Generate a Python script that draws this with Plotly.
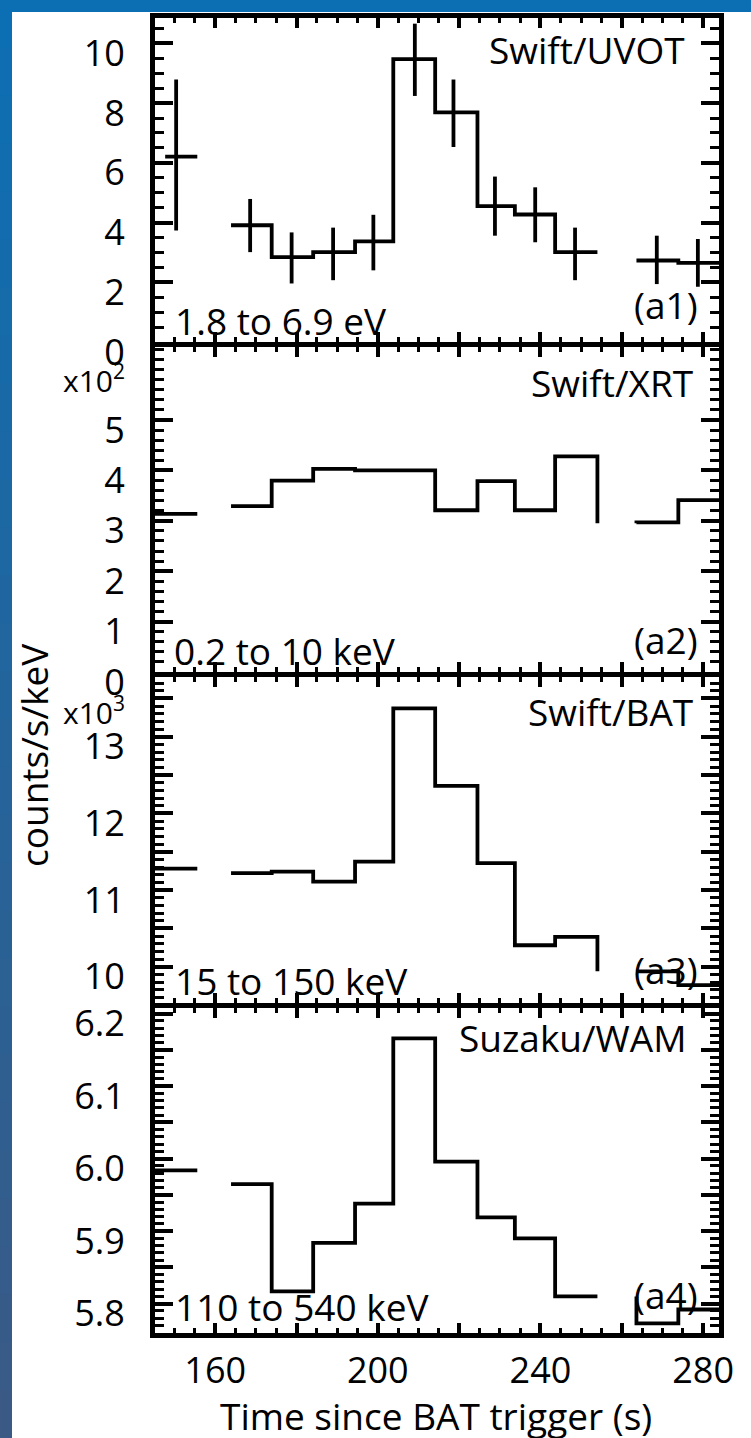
import plotly.graph_objects as go
from plotly.subplots import make_subplots

# ---------------- data ----------------
# time-bin edges (s since BAT trigger); bins 1 and 11 are data gaps
time_edges = [145.0, 155.6, 163.9, 173.9, 184.1, 194.4, 203.8, 214.1,
              224.5, 233.7, 243.6, 254.0, 263.6, 273.9, 285.0]
gap_bins = [1, 11]

# Swift/UVOT (1.8-6.9 eV)
uvot_first_edge = 147.7
uvot_time = [150.4, 168.6, 178.8, 189.0, 198.9, 209.1, 218.6, 228.8, 238.7, 248.5, 268.6, 278.7]
uvot_rate = [6.21, 3.91, 2.84, 3.01, 3.37, 9.47, 7.69, 4.55, 4.27, 3.01, 2.73, 2.65]
uvot_err_hi = [2.58, 0.88, 0.83, 0.82, 0.89, 1.19, 1.10, 0.99, 0.91, 0.82, 0.83, 0.80]
uvot_err_lo = [2.48, 0.90, 0.88, 0.94, 0.97, 1.23, 1.16, 0.99, 0.93, 0.94, 0.79, 0.80]

# Swift/XRT (0.2-10 keV), units of 1e2 counts/s/keV ; level in gap bins only sets the connectors
xrt_rate = [3.14, None, 3.29, 3.80, 4.03, 4.00, 4.00, 3.21, 3.79, 3.21, 4.28, 2.95, 2.97, 3.41]
# Swift/BAT (15-150 keV), units of 1e3
bat_rate = [11.28, None, 11.22, 11.24, 11.11, 11.37, 13.37, 12.36, 11.35, 10.28, 10.39, 9.94, 9.94, 9.76]
# Suzaku/WAM (110-540 keV)
wam_rate = [5.984, None, 5.965, 5.817, 5.884, 5.938, 6.166, 5.996, 5.919, 5.890, 5.810, 5.810, 5.773, 5.792]

instrument_labels = ["Swift/UVOT", "Swift/XRT", "Swift/BAT", "Suzaku/WAM"]
band_labels = ["1.8 to 6.9 eV", "0.2 to 10 keV", "15 to 150 keV", "110 to 540 keV"]
panel_tags = ["(a1)", "(a2)", "(a3)", "(a4)"]

# ---------------- geometry ----------------
W, H = 751, 1438
L, R, T, B = 155, 32, 18, 105
PW, PH = W - L - R, H - T - B
AX_LW = 5
# panel pixel extents (top, bottom); gaps equal the axis line width so lines coincide
panel_px = [(18, 342), (347, 672), (677, 1002.5), (1007.5, 1333)]


def xp(px):
    return (px - L) / PW


def yp(py):
    return (H - B - py) / PH


def step_path(edges, vals, gaps):
    xs, ys = [], []
    prev = None
    pending = None
    for i, v in enumerate(vals):
        x0, x1 = edges[i], edges[i + 1]
        if v is None:
            xs.append(None); ys.append(None)
            prev, pending = None, None
            continue
        if i in gaps:
            if prev is not None:
                xs += [x0]; ys += [v]
            xs.append(None); ys.append(None)
            pending = (x1, v)
            prev = None
            continue
        if pending is not None:
            xs.append(pending[0]); ys.append(pending[1])
            pending = None
        xs += [x0, x1]; ys += [v, v]
        prev = v
    return xs, ys


fig = make_subplots(rows=4, cols=1, shared_xaxes=True, vertical_spacing=0.01)

LINE_W = 3.8
# UVOT step + error bars
uvot_edges = [uvot_first_edge] + time_edges[1:]
uvot_steps = list(uvot_rate)
for g in gap_bins:
    uvot_steps.insert(g, None)
ux, uy = step_path(uvot_edges, uvot_steps, gap_bins)
fig.add_trace(go.Scatter(x=ux, y=uy, mode="lines", line=dict(color="black", width=LINE_W),
                         connectgaps=False, showlegend=False), row=1, col=1)
fig.add_trace(go.Scatter(x=uvot_time, y=uvot_rate, mode="markers",
                         marker=dict(size=1, color="black"),
                         error_y=dict(type="data", symmetric=False, array=uvot_err_hi,
                                      arrayminus=uvot_err_lo, color="black",
                                      thickness=LINE_W, width=0),
                         showlegend=False), row=1, col=1)

for r, vals in [(2, xrt_rate), (3, bat_rate), (4, wam_rate)]:
    sx, sy = step_path(time_edges, vals, gap_bins)
    fig.add_trace(go.Scatter(x=sx, y=sy, mode="lines", line=dict(color="black", width=LINE_W),
                             connectgaps=False, showlegend=False), row=r, col=1)

FONT = "Open Sans"
TICKFONT = dict(family=FONT, size=36, color="black")

for r in range(1, 5):
    fig.update_xaxes(row=r, col=1, range=[145.2, 283.9], autorange=False, automargin=False,
                     showline=True, linewidth=AX_LW,
                     linecolor="black", mirror="ticks", ticks="inside", ticklen=10,
                     tickwidth=4, tickcolor="black", tickmode="linear", tick0=160, dtick=20,
                     ticklabelstep=2,
                     minor=dict(ticks="inside", ticklen=5, tickwidth=3, tickcolor="black",
                                dtick=5, tick0=0),
                     showgrid=False, zeroline=False, tickfont=TICKFONT,
                     ticklabelstandoff=2)

y_specs = {
    1: dict(range=[0, 10.85], mode="linear", tick0=0, dtick=2, step=1, fmt="d", minor=0.5),
    2: dict(range=[0, 6.45], mode="array", vals=[0, 1, 2, 3, 4, 5], fmt="d", minor=0.2),
    3: dict(range=[9.533, 13.779], mode="linear", tick0=10, dtick=0.5, step=2, fmt="d", minor=0.1),
    4: dict(range=[5.7596, 6.2086], mode="linear", tick0=5.8, dtick=0.05, step=2, fmt=".1f",
            minor=0.01),
}
for r, s in y_specs.items():
    top, bot = panel_px[r - 1]
    common = dict(range=s["range"], autorange=False, automargin=False,
                  domain=[yp(bot), yp(top)], tickformat=s["fmt"],
                  showline=True, linewidth=AX_LW, linecolor="black", mirror="ticks",
                  ticks="inside", ticklen=18, tickwidth=3.5, tickcolor="black",
                  minor=dict(ticks="inside", ticklen=9, tickwidth=3, tickcolor="black",
                             dtick=s["minor"], tick0=0),
                  showgrid=False, zeroline=False, tickfont=TICKFONT,
                  ticklabelstandoff=18, ticklabelshift=10)
    if s["mode"] == "linear":
        common.update(tickmode="linear", tick0=s["tick0"], dtick=s["dtick"], ticklabelstep=s["step"])
    else:
        common.update(tickmode="array", tickvals=s["vals"])
    fig.update_yaxes(row=r, col=1, **common)

annots = []
TXT = dict(family=FONT, size=37, color="black")
# instrument names (top right), energy bands (bottom left), tags (bottom right)
name_pos = [(687, 49), (695, 382), (695, 711), (688, 1037)]
band_pos = [(173, 320), (172, 650), (173, 980), (173, 1306)]
tag_pos = [(700, 305), (700, 639), (700, 969), (700, 1294)]
for i in range(4):
    annots.append(dict(text=instrument_labels[i], x=xp(name_pos[i][0]), y=yp(name_pos[i][1]),
                       xref="paper", yref="paper", xanchor="right", yanchor="middle",
                       showarrow=False, font=TXT))
    annots.append(dict(text=band_labels[i], x=xp(band_pos[i][0]), y=yp(band_pos[i][1]),
                       xref="paper", yref="paper", xanchor="left", yanchor="middle",
                       showarrow=False, font=TXT))
    annots.append(dict(text=panel_tags[i], x=xp(tag_pos[i][0]), y=yp(tag_pos[i][1]),
                       xref="paper", yref="paper", xanchor="right", yanchor="middle",
                       showarrow=False, font=TXT))

EXPFONT = dict(family=FONT, size=30, color="black")
annots.append(dict(text="x10<sup>2</sup>", x=xp(127), y=yp(379), xref="paper", yref="paper",
                   xanchor="right", yanchor="middle", showarrow=False, font=EXPFONT))
annots.append(dict(text="x10<sup>3</sup>", x=xp(127), y=yp(711), xref="paper", yref="paper",
                   xanchor="right", yanchor="middle", showarrow=False, font=EXPFONT))

annots.append(dict(text="counts/s/keV", x=xp(33), y=yp(755), xref="paper", yref="paper",
                   xanchor="center", yanchor="middle", textangle=-90, showarrow=False, font=TXT))
annots.append(dict(text="Time since BAT trigger (s)", x=xp(436), y=yp(1416), xref="paper",
                   yref="paper", xanchor="center", yanchor="middle", showarrow=False, font=TXT))

# slide background: blue frame along the top and left edges
shapes = [dict(type="rect", xref="paper", yref="paper", x0=xp(0), x1=xp(W), y0=yp(12), y1=yp(0),
               fillcolor="rgb(12,111,179)", line=dict(width=0), layer="below")]
n = 30
c0, c1 = (12, 111, 179), (58, 90, 133)
for k in range(n):
    f = k / (n - 1)
    col = tuple(round(c0[j] + (c1[j] - c0[j]) * f) for j in range(3))
    shapes.append(dict(type="rect", xref="paper", yref="paper", x0=xp(0), x1=xp(12),
                       y0=yp(H * (k + 1) / n + 1), y1=yp(H * k / n),
                       fillcolor="rgb(%d,%d,%d)" % col, line=dict(width=0), layer="below"))

fig.update_layout(width=W, height=H, margin=dict(l=L, r=R, t=T, b=B, autoexpand=False),
                  paper_bgcolor="white", plot_bgcolor="white",
                  annotations=annots, shapes=shapes, showlegend=False,
                  font=dict(family=FONT, color="black"))

fig.write_html("out.html", config={"displayModeBar": False},
               post_script="document.body.style.margin='0px';")
